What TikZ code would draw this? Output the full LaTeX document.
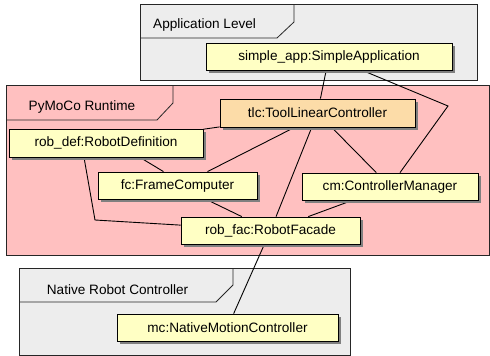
\documentclass[tikz,border=0pt]{standalone}
\usepackage{fontspec}
\setmainfont{Liberation Sans}
\usetikzlibrary{shadows,calc}
\pgfdeclarelayer{bg}
\pgfdeclarelayer{edges}
\pgfsetlayers{bg,edges,main}
\definecolor{nodefill}{HTML}{FFFFC4}
\definecolor{tlcfill}{HTML}{FCDCA8}
\definecolor{pinkfill}{HTML}{FFC0C0}
\definecolor{grayfill}{HTML}{EDEDED}
\definecolor{shadowgray}{HTML}{808080}
\tikzset{
  obj/.style={draw=black, line width=0.8pt, fill=nodefill, inner sep=0pt,
    minimum height=27pt, font=\fontsize{13.6}{16}\selectfont,
    drop shadow={shadow xshift=3pt, shadow yshift=-3pt, fill=shadowgray, opacity=1}},
  frame/.style={draw=black!85, line width=0.8pt},
  tab/.style={draw=black!85, line width=0.8pt},
  flabel/.style={anchor=base west, inner sep=0pt, font=\fontsize{13.6}{16}\selectfont},
  link/.style={draw=black, line width=0.9pt}
}
\begin{document}
\begin{tikzpicture}[x=1pt,y=-1pt]
\useasboundingbox (0,0) rectangle (490,356);
\begin{pgfonlayer}{bg}
  % Application Level
  \fill[grayfill] (140,4) rectangle (477,80);
  \draw[frame] (140,4) rectangle (477,80);
  \draw[tab] (140,38) -- (277,38) -- (294,22) -- (294,4);
  % PyMoCo Runtime
  \fill[pinkfill] (6,85) rectangle (489,255);
  \draw[frame] (6,85) rectangle (489,255);
  \draw[tab] (6,120) -- (157,120) -- (173,103) -- (173,85);
  % Native Robot Controller
  \fill[grayfill] (19,268) rectangle (350,355);
  \draw[frame] (19,268) rectangle (350,355);
  \draw[tab] (19,302) -- (216,302) -- (233,285) -- (233,268);
\end{pgfonlayer}
\node[flabel] (lblapp) at (153,28.5) {Application Level};
\node[flabel] (lblpy) at (28.5,110.7) {PyMoCo Runtime};
\node[flabel] (lblnat) at (46.7,294) {Native Robot Controller};

\node[obj, minimum width=246pt] (app) at (329,56.5) {simple\_app:SimpleApplication};
\node[obj, minimum width=195pt, minimum height=28pt, fill=tlcfill] (tlc) at (317.5,113) {tlc:ToolLinearController};
\node[obj, minimum width=194pt, minimum height=28pt] (robdef) at (106,143) {rob\_def:RobotDefinition};
\node[obj, minimum width=159pt] (fc) at (177.5,185.5) {fc:FrameComputer};
\node[obj, minimum width=176pt] (cm) at (390,186.5) {cm:ControllerManager};
\node[obj, minimum width=179pt] (robfac) at (270.5,230.5) {rob\_fac:RobotFacade};
\node[obj, minimum width=221pt] (mc) at (227.5,327.5) {mc:NativeMotionController};

\coordinate (bendC) at (448,106);
\coordinate (bendD) at (95,220);

\begin{pgfonlayer}{edges}
  \draw[link] (app) -- (tlc);
  \draw[link] (app) -- (bendC) -- (cm);
  \draw[link] (tlc) -- (robdef);
  \draw[link] ([xshift=-23pt]tlc.south) -- ([xshift=30pt]fc.north);
  \draw[link] (tlc) -- (robfac);
  \draw[link] (tlc) -- (cm);
  \draw[link] ([xshift=34pt]robdef.south) -- ([xshift=-14pt]fc.north);
  \draw[link] ([xshift=-22pt]robdef.south) -- (bendD) -- (robfac);
  \draw[link] (fc) -- (robfac);
  \draw[link] (cm) -- (robfac);
  \draw[link] (robfac) -- (mc);
\end{pgfonlayer}
\end{tikzpicture}
\end{document}
